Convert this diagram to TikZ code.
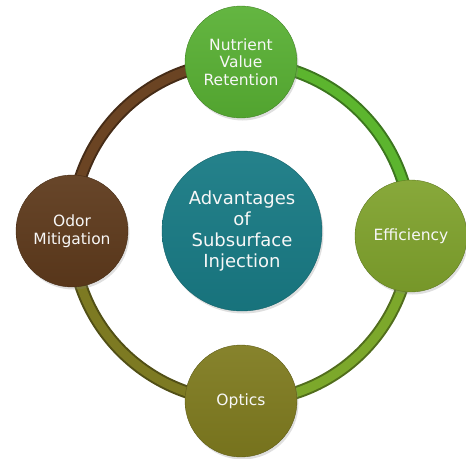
\documentclass[tikz,border=0pt]{standalone}
\usepackage{fontspec}
\setmainfont{DejaVu Sans}
\usetikzlibrary{shadows,backgrounds}
\definecolor{cTop}{HTML}{58B033}
\definecolor{cRight}{HTML}{7FA22C}
\definecolor{cBottom}{HTML}{7F7B1F}
\definecolor{cLeft}{HTML}{5E3A1C}
\definecolor{cCenter}{HTML}{197B85}
\definecolor{rTR}{HTML}{5CB52E}
\definecolor{rRB}{HTML}{7CA82B}
\definecolor{rBL}{HTML}{7D7A22}
\definecolor{rLT}{HTML}{6B4423}
\tikzset{
  bubble/.style={circle, inner sep=0pt, minimum size=112pt, align=center,
    text=white!94!gray, font=\fontsize{15.5}{17.5}\selectfont,
    drop shadow={opacity=0.25, shadow xshift=1.5pt, shadow yshift=-2.5pt}},
  ringout/.style={line width=13pt, draw=#1!65!black},
  ringin/.style={line width=9pt, draw=#1},
}
\begin{document}
\begin{tikzpicture}[x=1pt,y=-1pt]
\useasboundingbox (0,0) rectangle (466,458);
\node[bubble, top color=cTop!93!white, bottom color=cTop!93!black, draw=cTop!75!black] (top) at (241,62) {Nutrient\\Value\\Retention};
\node[bubble, top color=cRight!93!white, bottom color=cRight!93!black, draw=cRight!75!black] (right) at (411,236) {Efficiency};
\node[bubble, top color=cBottom!94!white, bottom color=cBottom!93!black, draw=cBottom!75!black] (bottom) at (241,401) {Optics};
\node[bubble, top color=cLeft!94!white, bottom color=cLeft!93!black, draw=cLeft!75!black] (left) at (72,231) {Odor\\Mitigation};
\node[bubble, minimum size=160pt, font=\fontsize{18}{21}\selectfont, top color=cCenter!95!white, bottom color=cCenter!93!black, draw=cCenter!80!black] (center) at (242,231) {Advantages\\of\\Subsurface\\Injection};
\begin{scope}[on background layer]
\draw[ringout=rTR] (top.center) to[bend left=45] (right.center);
\draw[ringin=rTR] (top.center) to[bend left=45] (right.center);
\draw[ringout=rRB] (right.center) to[bend left=45] (bottom.center);
\draw[ringin=rRB] (right.center) to[bend left=45] (bottom.center);
\draw[ringout=rBL] (bottom.center) to[bend left=45] (left.center);
\draw[ringin=rBL] (bottom.center) to[bend left=45] (left.center);
\draw[ringout=rLT] (left.center) to[bend left=45] (top.center);
\draw[ringin=rLT] (left.center) to[bend left=45] (top.center);
\end{scope}
\end{tikzpicture}
\end{document}
